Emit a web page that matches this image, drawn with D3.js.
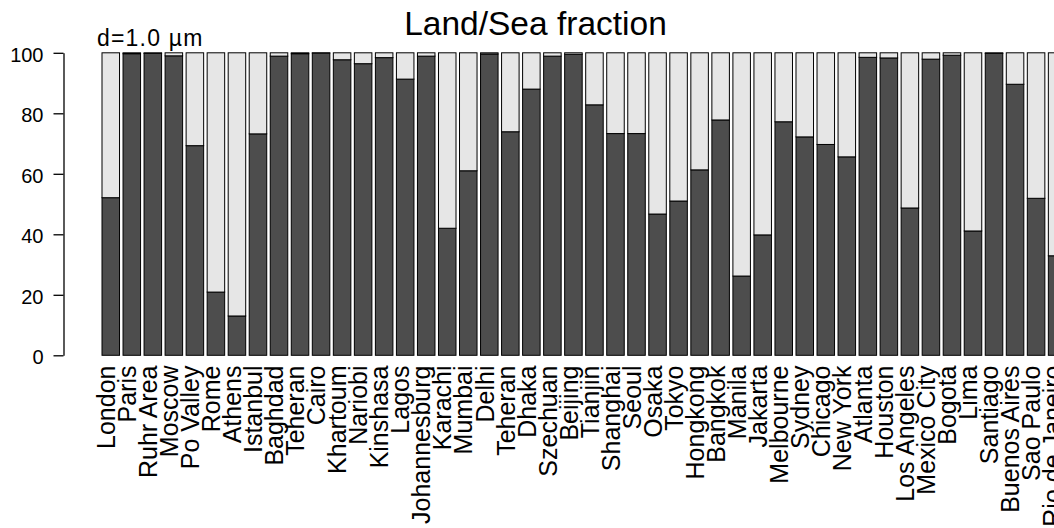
<!DOCTYPE html>
<html>
<head>
<meta charset="utf-8">
<script src="https://cdn.jsdelivr.net/npm/d3@7"></script>
<style>
  html, body { margin: 0; padding: 0; background: #fff; }
  svg { display: block; font-family: "Liberation Sans", Arial, Helvetica, sans-serif; }
</style>
</head>
<body>
<svg id="chart" width="1054" height="528"></svg>
<script>
// Cities, in plotting order (Teheran appears twice in the source list)
const cities = [
  "London", "Paris", "Ruhr Area", "Moscow", "Po Valley", "Rome", "Athens", "Istanbul",
  "Baghdad", "Teheran", "Cairo", "Khartoum", "Nariobi", "Kinshasa", "Lagos", "Johannesburg",
  "Karachi", "Mumbai", "Delhi", "Teheran", "Dhaka", "Szechuan", "Beijing", "Tianjin",
  "Shanghai", "Seoul", "Osaka", "Tokyo", "Hongkong", "Bangkok", "Manila", "Jakarta",
  "Melbourne", "Sydney", "Chicago", "New York", "Atlanta", "Houston", "Los Angeles",
  "Mexico City", "Bogota", "Lima", "Santiago", "Buenos Aires", "Sao Paulo", "Rio de Janeiro"
];

// Land fraction (%) per city; the remainder up to 100 is sea
const landPct = [
  52.1, 99.7, 99.8, 99.0, 69.3, 20.9, 13.0, 73.2,
  98.9, 99.7, 99.9, 97.7, 96.4, 98.4, 91.3, 98.9,
  42.0, 61.0, 99.6, 73.9, 88.0, 98.9, 99.5, 82.8,
  73.3, 73.3, 46.7, 51.0, 61.3, 77.8, 26.2, 39.8,
  77.2, 72.2, 69.7, 65.6, 98.5, 98.3, 48.7,
  97.9, 99.2, 41.1, 99.8, 89.6, 51.9, 32.9
];

const yTicks = [0, 20, 40, 60, 80, 100];
const titleText = "Land/Sea fraction";
const subText = "d=1.0 \u00b5m";

const svg = d3.select("#chart");

const step = 21.03;
const pad = 0.2 / 1.2;
const x0 = 102;
const x = d3.scaleBand()
  .domain(d3.range(cities.length))
  .range([x0, x0 + step * (cities.length - pad)])
  .paddingInner(pad)
  .paddingOuter(0)
  .align(0);

const y = d3.scaleLinear().domain([0, 100]).range([355.3, 52.8]);

const rows = cities.map((c, i) => ({ i, city: c, land: landPct[i], sea: 100 - landPct[i] }));
const stacked = d3.stack().keys(["land", "sea"])(rows);
const fills = { land: "#4d4d4d", sea: "#e6e6e6" };

// Stacked bars: land at the bottom, sea on top
svg.append("g").selectAll("g")
  .data(stacked)
  .join("g")
  .attr("fill", d => fills[d.key])
  .selectAll("rect")
  .data(d => d)
  .join("rect")
  .attr("x", d => x(d.data.i))
  .attr("width", x.bandwidth())
  .attr("y", d => y(d[1]))
  .attr("height", d => y(d[0]) - y(d[1]))
  .attr("stroke", "#000")
  .attr("stroke-width", 1);

// Left axis
const yAxis = svg.append("g")
  .attr("transform", "translate(63.5,0)")
  .call(d3.axisLeft(y).tickValues(yTicks).tickSize(10).tickSizeOuter(0).tickPadding(10));
yAxis.select(".domain").attr("stroke", "#000").attr("stroke-width", 1.3);
yAxis.selectAll(".tick line").attr("stroke", "#000").attr("stroke-width", 1.3);
yAxis.selectAll(".tick text")
  .attr("font-size", 20)
  .attr("font-family", "Liberation Sans, Arial, sans-serif")
  .attr("fill", "#000")
  .attr("dy", "0.43em");

// Rotated city names beneath the bars
svg.append("g").selectAll("text")
  .data(rows)
  .join("text")
  .attr("transform", d => `translate(${x(d.i) + x.bandwidth() / 2 + 4.2},365.5) rotate(-90)`)
  .attr("text-anchor", "end")
  .attr("font-size", 25)
  .attr("fill", "#000")
  .text(d => d.city);

// Title and particle-size note
svg.append("text")
  .attr("x", 535.5)
  .attr("y", 35)
  .attr("text-anchor", "middle")
  .attr("font-size", 33.5)
  .attr("fill", "#000")
  .text(titleText);

svg.append("text")
  .attr("x", 97)
  .attr("y", 46)
  .attr("font-size", 23)
  .attr("letter-spacing", "1.2px")
  .attr("fill", "#000")
  .text(subText);
</script>
</body>
</html>
